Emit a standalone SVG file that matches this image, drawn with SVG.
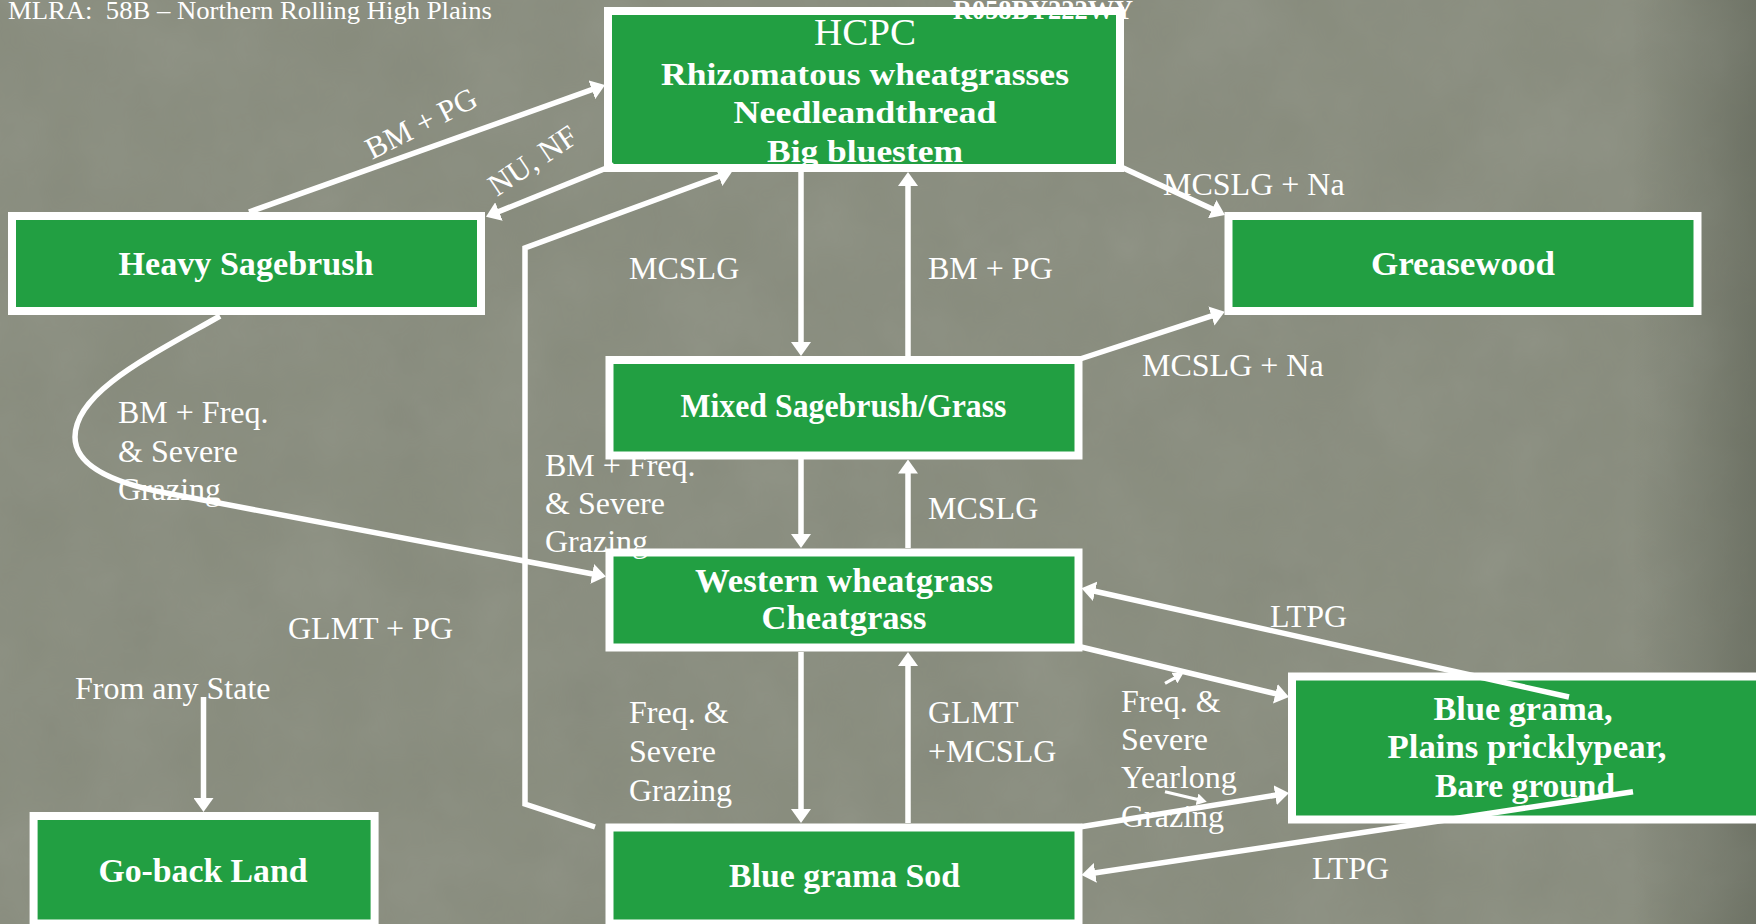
<svg xmlns="http://www.w3.org/2000/svg" width="1756" height="924" viewBox="0 0 1756 924">
  <defs>
    <style>
      .box { fill: #229f42; stroke: #ffffff; stroke-width: 8; }
      .nt { font-family: "Liberation Serif", "Times New Roman", serif; font-weight: bold; font-size: 33px; fill: #ffffff; text-anchor: middle; }
      .lb { font-family: "Liberation Serif", "Times New Roman", serif; font-size: 32px; fill: #ffffff; }
      .ln { fill: none; stroke: #ffffff; stroke-width: 5.5; marker-end: url(#tip); }
      .lns { fill: none; stroke: #ffffff; stroke-width: 3.2; marker-end: url(#tipS); }
    </style>
    <marker id="tip" viewBox="0 0 14 20" refX="6" refY="10" markerWidth="14" markerHeight="20" markerUnits="userSpaceOnUse" orient="auto">
      <path d="M0,0 L14,10 L0,20 z" fill="#ffffff"/>
    </marker>
    <marker id="tipS" viewBox="0 0 10 12" refX="4" refY="6" markerWidth="10" markerHeight="12" markerUnits="userSpaceOnUse" orient="auto">
      <path d="M0,0 L10,6 L0,12 z" fill="#ffffff"/>
    </marker>
    <filter id="grain" x="0" y="0" width="100%" height="100%">
      <feTurbulence type="fractalNoise" baseFrequency="0.011" numOctaves="4" seed="7"/>
      <feColorMatrix type="saturate" values="0"/>
    </filter>
    <linearGradient id="edge" x1="0" y1="0" x2="1" y2="0">
      <stop offset="0.93" stop-color="#3c4236" stop-opacity="0"/>
      <stop offset="1" stop-color="#3c4236" stop-opacity="0.35"/>
    </linearGradient>
  </defs>

  <!-- textured slide background -->
  <rect x="0" y="0" width="1756" height="924" fill="#888c7d"/>
  <rect x="0" y="0" width="1756" height="924" filter="url(#grain)" opacity="0.11"/>
  <rect x="0" y="0" width="1756" height="924" fill="url(#edge)"/>

  <text class="lb" x="8" y="19" xml:space="preserve" style="font-size:26px" textLength="484" lengthAdjust="spacingAndGlyphs">MLRA:  58B – Northern Rolling High Plains</text>

  <!-- states -->
  <g id="hcpc">
    <rect class="box" x="608" y="11" width="512" height="157"/>
    <text class="nt" x="865" y="45" style="font-weight:normal;font-size:38px" textLength="102" lengthAdjust="spacingAndGlyphs">HCPC</text>
    <text class="nt" x="865" y="85" style="font-size:32px" textLength="408" lengthAdjust="spacingAndGlyphs">Rhizomatous wheatgrasses</text>
    <text class="nt" x="865" y="123" style="font-size:32px" textLength="263" lengthAdjust="spacingAndGlyphs">Needleandthread</text>
    <text class="nt" x="865" y="162" style="font-size:32px" textLength="196" lengthAdjust="spacingAndGlyphs">Big bluestem</text>
  </g>
  <text x="953" y="19" style="font-family:'Liberation Serif','Times New Roman',serif;font-weight:bold;font-size:27px;fill:#ffffff" textLength="180" lengthAdjust="spacingAndGlyphs">R058BY222WY</text>

  <g id="heavy-sagebrush">
    <rect class="box" x="12" y="216" width="469" height="95"/>
    <text class="nt" x="246" y="275" textLength="255" lengthAdjust="spacingAndGlyphs">Heavy Sagebrush</text>
  </g>

  <g id="greasewood">
    <rect class="box" x="1228.5" y="216" width="469" height="95"/>
    <text class="nt" x="1463" y="275" textLength="184" lengthAdjust="spacingAndGlyphs">Greasewood</text>
  </g>

  <g id="mixed-sagebrush-grass">
    <rect class="box" x="609.5" y="360" width="469" height="95.5"/>
    <text class="nt" x="843.5" y="417" textLength="326" lengthAdjust="spacingAndGlyphs">Mixed Sagebrush/Grass</text>
  </g>

  <g id="western-wheatgrass">
    <rect class="box" x="609.5" y="552.5" width="469" height="95"/>
    <text class="nt" x="844" y="592" textLength="298" lengthAdjust="spacingAndGlyphs">Western wheatgrass</text>
    <text class="nt" x="844" y="629" textLength="165" lengthAdjust="spacingAndGlyphs">Cheatgrass</text>
  </g>

  <g id="blue-grama-sod">
    <rect class="box" x="609.5" y="827.5" width="469" height="96"/>
    <text class="nt" x="844.5" y="887" textLength="231" lengthAdjust="spacingAndGlyphs">Blue grama Sod</text>
  </g>

  <g id="blue-grama-pricklypear">
    <rect class="box" x="1292" y="676.5" width="490" height="143"/>
    <text class="nt" x="1523" y="720" textLength="179" lengthAdjust="spacingAndGlyphs">Blue grama,</text>
    <text class="nt" x="1527" y="758" textLength="279" lengthAdjust="spacingAndGlyphs">Plains pricklypear,</text>
    <text class="nt" x="1525" y="797" textLength="180" lengthAdjust="spacingAndGlyphs">Bare ground</text>
  </g>

  <g id="go-back-land">
    <rect class="box" x="33.6" y="816" width="341" height="107.5"/>
    <text class="nt" x="203" y="882" textLength="209" lengthAdjust="spacingAndGlyphs">Go-back Land</text>
  </g>

  <!-- transitions -->
  <g id="connectors">
    <path class="ln" d="M249,212 L597.5,87.7"/>
    <path class="ln" d="M614,165 L493.4,213.8"/>
    <path class="ln" d="M595,827 L525,804 L525,248 L724.5,174.5"/>
    <path class="ln" d="M801,172 L801,348"/>
    <path class="ln" d="M908,356 L908,180"/>
    <path class="ln" d="M801,459 L801,540"/>
    <path class="ln" d="M908,548 L908,467.5"/>
    <path class="ln" d="M801,652 L801,815"/>
    <path class="ln" d="M908,823 L908,660"/>
    <path class="ln" d="M1121,167 L1217.7,211.6"/>
    <path class="ln" d="M1080,359 L1217.1,314.2"/>
    <path class="ln" d="M1569,697 L1089.3,590"/>
    <path class="ln" d="M1081,647 L1281.2,695.1"/>
    <path class="ln" d="M1081,826.7 L1281.1,794.3"/>
    <path class="ln" d="M1633,791.7 L1089.4,873.8"/>
    <path class="ln" d="M203.5,697 L203.5,804"/>
    <path class="ln" d="M220,316 C150,356 75,392 75,437 C75,467 116,483.5 166,493 L598.1,575"/>
    <path class="lns" d="M1165,683.3 L1178,676.2"/>
    <path class="lns" d="M1165,791.7 L1200.9,800.3"/>
  </g>

  <!-- transition labels -->
  <g id="labels">
    <text class="lb" transform="translate(372,160) rotate(-27)" style="font-size:31px">BM + PG</text>
    <text class="lb" transform="translate(497,197) rotate(-34)" style="font-size:31px">NU, NF</text>
    <text class="lb" x="629" y="279">MCSLG</text>
    <text class="lb" x="928" y="279">BM + PG</text>
    <text class="lb" x="1163" y="195">MCSLG + Na</text>
    <text class="lb" x="1142" y="376">MCSLG + Na</text>
    <text class="lb" x="118" y="423">BM + Freq.</text>
    <text class="lb" x="118" y="462">&amp; Severe</text>
    <text class="lb" x="118" y="500">Grazing</text>
    <text class="lb" x="545" y="476">BM + Freq.</text>
    <text class="lb" x="545" y="514">&amp; Severe</text>
    <text class="lb" x="545" y="552">Grazing</text>
    <text class="lb" x="928" y="519">MCSLG</text>
    <text class="lb" x="288" y="639">GLMT + PG</text>
    <text class="lb" x="75" y="699">From any State</text>
    <text class="lb" x="629" y="723">Freq. &amp;</text>
    <text class="lb" x="629" y="762">Severe</text>
    <text class="lb" x="629" y="801">Grazing</text>
    <text class="lb" x="928" y="723">GLMT</text>
    <text class="lb" x="928" y="762">+MCSLG</text>
    <text class="lb" x="1270" y="627">LTPG</text>
    <text class="lb" x="1312" y="879">LTPG</text>
    <text class="lb" x="1121" y="712">Freq. &amp;</text>
    <text class="lb" x="1121" y="750">Severe</text>
    <text class="lb" x="1121" y="788">Yearlong</text>
    <text class="lb" x="1121" y="827">Grazing</text>
  </g>
</svg>
